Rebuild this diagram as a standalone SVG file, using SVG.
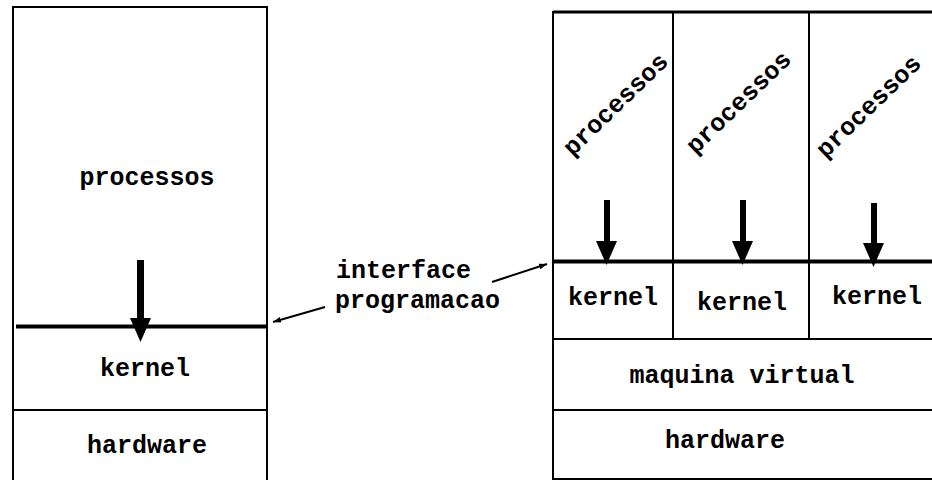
<svg xmlns="http://www.w3.org/2000/svg" width="932" height="480" viewBox="0 0 932 480">
<style>
.box{fill:none;stroke:#000;stroke-width:2}
.thick{stroke:#000;stroke-width:4;fill:none}
.thin{stroke:#000;stroke-width:2;fill:none}
.lbl{font-family:"Liberation Mono","Courier New",monospace;font-weight:bold;font-size:25px;fill:#000}
.mid{text-anchor:middle}
.shaft{fill:#000}
</style>
<defs>
<marker id="ptr" viewBox="0 0 10 10" refX="10" refY="5" markerWidth="8" markerHeight="6" markerUnits="userSpaceOnUse" orient="auto" preserveAspectRatio="none">
<path d="M0,0 L10,5 L0,10 Z" fill="#000"/>
</marker>
</defs>
<rect width="932" height="480" fill="#fff"/>

<g id="left-stack">
<rect class="box" x="13" y="7" width="254" height="480"/>
<line class="thin" x1="13" y1="410" x2="267" y2="410"/>
<line class="thick" x1="16" y1="326.5" x2="268" y2="326.5"/>
<text class="lbl mid" x="147" y="185">processos</text>
<text class="lbl mid" x="145" y="376">kernel</text>
<text class="lbl mid" x="147" y="453">hardware</text>
</g>

<g id="right-stack">
<rect class="box" x="553" y="12" width="400" height="467"/>
<line class="thick" x1="553" y1="12" x2="932" y2="12" style="stroke-width:3"/>
<line class="thin" x1="673" y1="12" x2="673" y2="339"/>
<line class="thin" x1="809" y1="12" x2="809" y2="339"/>
<line class="thin" x1="553" y1="339" x2="932" y2="339"/>
<line class="thin" x1="553" y1="410" x2="932" y2="410"/>
<line class="thick" x1="553" y1="261.5" x2="932" y2="261.5"/>
<text class="lbl mid" transform="translate(621,110) rotate(-44)">processos</text>
<text class="lbl mid" transform="translate(744,108) rotate(-44)">processos</text>
<text class="lbl mid" transform="translate(874,112) rotate(-44)">processos</text>
<text class="lbl mid" x="613" y="305">kernel</text>
<text class="lbl mid" x="742" y="310">kernel</text>
<text class="lbl mid" x="877" y="304">kernel</text>
<text class="lbl mid" x="742" y="383">maquina virtual</text>
<text class="lbl mid" x="725" y="448">hardware</text>
</g>

<g id="interface-label">
<text class="lbl" x="336" y="278">interface</text>
<text class="lbl" x="335" y="308">programacao</text>
</g>

<g id="connectors">
<rect class="shaft" x="137" y="260" width="7" height="59"/>
<path d="M130,318 L151,318 L140.5,342 Z" fill="#000"/>
<rect class="shaft" x="604" y="200" width="6" height="42"/>
<path d="M596,241 L617,241 L606.5,265 Z" fill="#000"/>
<rect class="shaft" x="740" y="200" width="6" height="42"/>
<path d="M732,241 L753,241 L742.5,265 Z" fill="#000"/>
<rect class="shaft" x="871" y="203" width="6" height="41"/>
<path d="M863,243 L884,243 L873.5,267 Z" fill="#000"/>
<line class="thin" x1="325" y1="307" x2="273" y2="322" marker-end="url(#ptr)" style="stroke-width:2"/>
<line class="thin" x1="492" y1="282" x2="547" y2="264" marker-end="url(#ptr)" style="stroke-width:2"/>
</g>
</svg>
